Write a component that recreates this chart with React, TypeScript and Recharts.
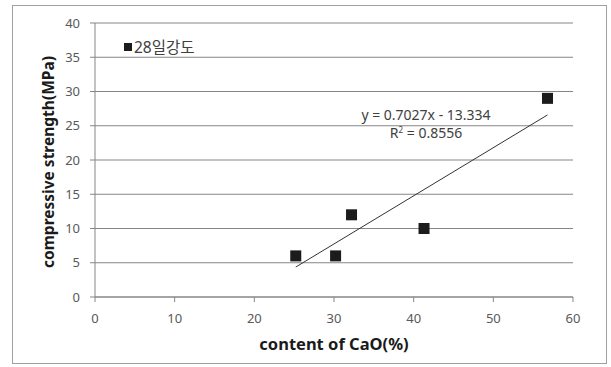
import React from 'react';
import { ScatterChart, Scatter, XAxis, YAxis, CartesianGrid } from 'recharts';

// CaO content (%) and 28-day compressive strength (MPa)
const caoContent = [25.2, 30.2, 32.2, 41.3, 56.8];
const strength28 = [6, 6, 12, 10, 29];

const xTicks = [0, 10, 20, 30, 40, 50, 60];
const yTicks = [0, 5, 10, 15, 20, 25, 30, 35, 40];

// Linear trend line fitted to the series
const slope = 0.7027;
const intercept = -13.334;
const rSquared = 0.8556;

const seriesName = '28일강도';

const points = caoContent.map((x, i) => ({ x, y: strength28[i] }));
const xMin = Math.min(...caoContent);
const xMax = Math.max(...caoContent);
const trend = [xMin, xMax].map((x) => ({ x, y: slope * x + intercept }));

const FONT = "'Noto Sans', 'Noto Sans CJK KR', sans-serif";
const TEXT = '#404040';
const GRID = '#868686';
const MARK = '#1c1c1c';

const Square = (props: any) => {
  const { cx, cy } = props;
  const s = 11;
  return <rect x={cx - s / 2} y={cy - s / 2} width={s} height={s} fill={MARK} />;
};

const NoDot = () => <g />;

export default function App() {
  return (
    <div style={{ position: 'absolute', left: 0, top: 0, width: 611, height: 367, background: '#fff', fontFamily: FONT }}>
      <div
        style={{
          position: 'absolute',
          left: 12,
          top: 5,
          width: 595,
          height: 359,
          border: '1px solid #a0a0a0',
          boxSizing: 'border-box',
        }}
      />
      <ScatterChart
        width={611}
        height={367}
        margin={{ top: 23, right: 38, bottom: 15, left: 40 }}
        style={{ position: 'absolute', left: 0, top: 0 }}
      >
        <CartesianGrid horizontal vertical={false} stroke={GRID} strokeWidth={1} />
        <XAxis
          type="number"
          dataKey="x"
          domain={[0, 60]}
          ticks={xTicks}
          height={55}
          stroke={GRID}
          tickSize={5}
          tickMargin={12}
          tick={{ fill: '#595959', fontSize: 13, fontFamily: FONT }}
          label={{
            value: 'content of CaO(%)',
            position: 'insideBottom',
            offset: 2,
            style: { fill: '#1a1a1a', fontSize: 16.5, fontWeight: 700, fontFamily: FONT },
          }}
        />
        <YAxis
          type="number"
          dataKey="y"
          domain={[0, 40]}
          ticks={yTicks}
          width={55}
          stroke={GRID}
          tickSize={5}
          tickMargin={10}
          tick={{ fill: '#595959', fontSize: 13, fontFamily: FONT }}
          label={{
            value: 'compressive strength(MPa)',
            angle: -90,
            position: 'insideLeft',
            offset: 8,
            dy: 2,
            style: { textAnchor: 'middle', fill: '#1a1a1a', fontSize: 15.5, fontWeight: 700, fontFamily: FONT },
          }}
        />
        <Scatter name={seriesName} data={points} fill={MARK} shape={Square} isAnimationActive={false} />
        <Scatter
          name="trend"
          data={trend}
          legendType="none"
          line={{ stroke: '#333', strokeWidth: 1 }}
          shape={NoDot}
          isAnimationActive={false}
        />
      </ScatterChart>
      {/* series key */}
      <div
        style={{
          position: 'absolute',
          left: 124,
          top: 37,
          display: 'flex',
          alignItems: 'center',
          color: TEXT,
          fontSize: 15.5,
          lineHeight: '20px',
        }}
      >
        <span style={{ display: 'inline-block', width: 8, height: 8, background: MARK, marginRight: 2 }} />
        <span>{seriesName}</span>
      </div>
      {/* trend line equation */}
      <div
        style={{
          position: 'absolute',
          left: 346,
          top: 106,
          width: 160,
          textAlign: 'center',
          color: TEXT,
          fontSize: 14,
          lineHeight: '18px',
        }}
      >
        <div>y = {slope}x - {Math.abs(intercept)}</div>
        <div>
          R<span style={{ fontSize: 8, position: 'relative', top: -5 }}>2</span> = {rSquared}
        </div>
      </div>
    </div>
  );
}
